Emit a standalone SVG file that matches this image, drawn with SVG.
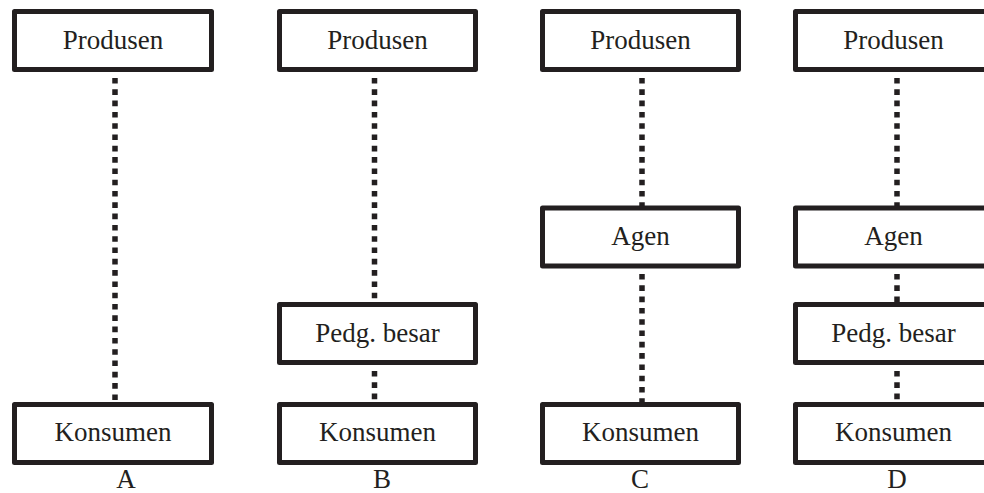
<svg xmlns="http://www.w3.org/2000/svg" width="984" height="493" viewBox="0 0 984 493">
<style>
.box{fill:#ffffff;stroke:#231f20;stroke-width:5;stroke-linejoin:round}
.t{font-family:"Liberation Serif","Times New Roman",serif;font-size:27px;fill:#231f20;text-anchor:middle}
.c{stroke:#231f20;stroke-width:5.5;stroke-dasharray:5.6 5.7;fill:none}
</style>
<rect width="984" height="493" fill="#ffffff"/>
<g id="connectors">
<line class="c" x1="115" y1="78" x2="115" y2="402"/>
<line class="c" x1="374.5" y1="78" x2="374.5" y2="302"/>
<line class="c" x1="374.5" y1="371" x2="374.5" y2="402"/>
<line class="c" x1="642" y1="78" x2="642" y2="206"/>
<line class="c" x1="642" y1="274" x2="642" y2="402"/>
<line class="c" x1="897" y1="78" x2="897" y2="206"/>
<line class="c" x1="897" y1="274" x2="897" y2="302"/>
<line class="c" x1="897" y1="371" x2="897" y2="402"/>
</g>
<g id="A-produsen"><rect class="box" x="14.5" y="11.5" width="197" height="58"/><text class="t" x="113" y="48.5">Produsen</text></g>
<g id="A-konsumen"><rect class="box" x="14.5" y="404.5" width="197" height="58"/><text class="t" x="113" y="441">Konsumen</text></g>
<g id="B-produsen"><rect class="box" x="279.5" y="11.5" width="196" height="58"/><text class="t" x="377.5" y="48.5">Produsen</text></g>
<g id="B-pedg"><rect class="box" x="279.5" y="304.5" width="196" height="58"/><text class="t" x="377.5" y="341.5">Pedg. besar</text></g>
<g id="B-konsumen"><rect class="box" x="279.5" y="404.5" width="196" height="58"/><text class="t" x="377.5" y="441">Konsumen</text></g>
<g id="C-produsen"><rect class="box" x="542.5" y="11.5" width="196" height="58"/><text class="t" x="640.5" y="48.5">Produsen</text></g>
<g id="C-agen"><rect class="box" x="542.5" y="208" width="196" height="58"/><text class="t" x="640.5" y="245">Agen</text></g>
<g id="C-konsumen"><rect class="box" x="542.5" y="404.5" width="196" height="58"/><text class="t" x="640.5" y="441">Konsumen</text></g>
<g id="D-produsen"><rect class="box" x="795.5" y="11.5" width="196" height="58"/><text class="t" x="893.5" y="48.5">Produsen</text></g>
<g id="D-agen"><rect class="box" x="795.5" y="208" width="196" height="58"/><text class="t" x="893.5" y="245">Agen</text></g>
<g id="D-pedg"><rect class="box" x="795.5" y="304.5" width="196" height="58"/><text class="t" x="893.5" y="341.5">Pedg. besar</text></g>
<g id="D-konsumen"><rect class="box" x="795.5" y="404.5" width="196" height="58"/><text class="t" x="893.5" y="441">Konsumen</text></g>
<g id="labels">
<text class="t" x="126" y="488">A</text>
<text class="t" x="382" y="488">B</text>
<text class="t" x="640" y="488">C</text>
<text class="t" x="897" y="488">D</text>
</g>
</svg>
